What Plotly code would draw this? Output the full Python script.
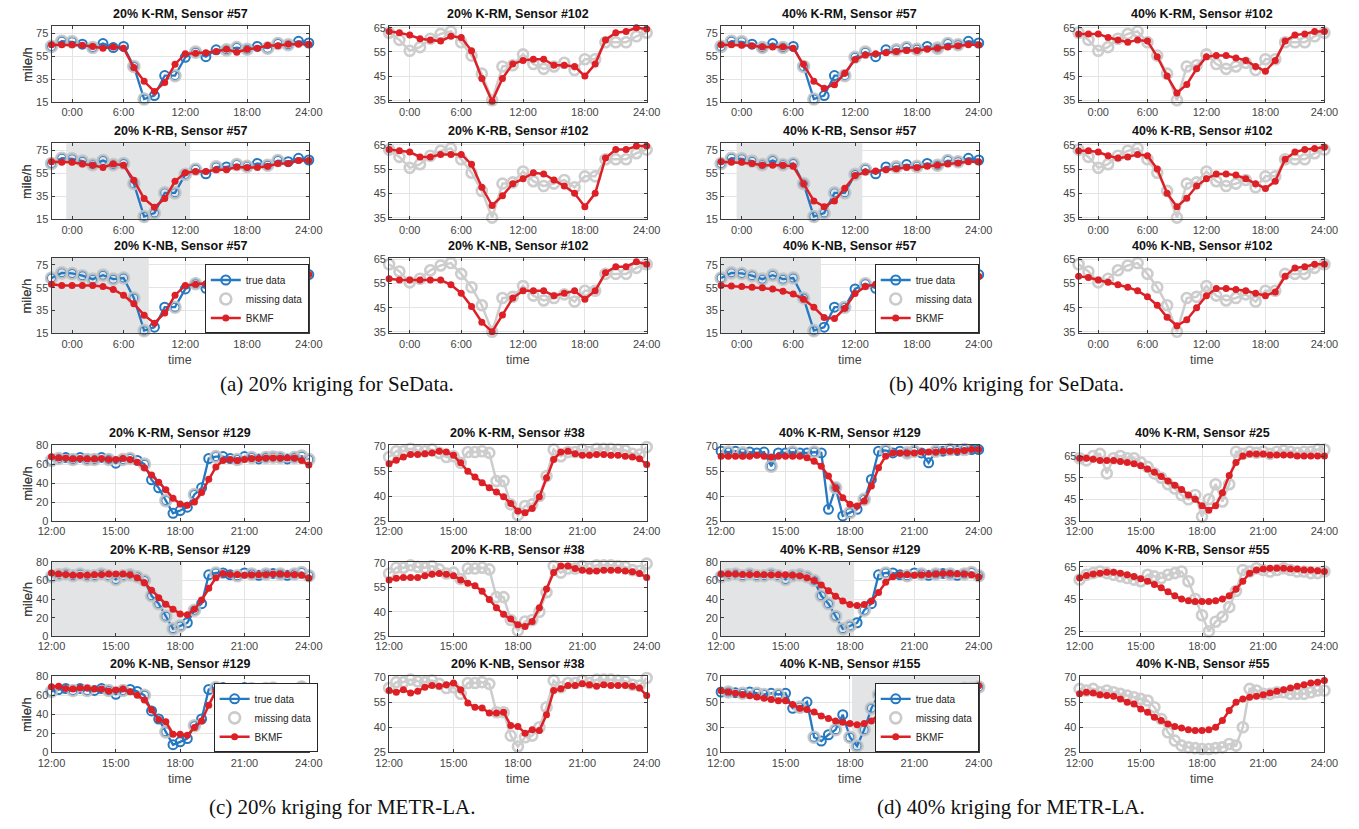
import plotly.graph_objects as go

W, H = 1359, 829

# ---------------- time axes ----------------
se_x = list(range(26))                    # SeData, hourly samples
se_tickvals = [2, 7, 13, 19, 25]
se_ticktext = ["0:00", "6:00", "12:00", "18:00", "24:00"]
la_x = list(range(37))                    # METR-LA, 20-minute samples from 12:00
la_tickvals = [0, 9, 18, 27, 36]
la_ticktext = ["12:00", "15:00", "18:00", "21:00", "24:00"]

# ---------------- SeData (speed, mile/h) ----------------
se_true_57 = [63.5, 68, 67.5, 65.5, 62.5, 66, 62.5, 63.5, 46, 17.5, 20.5, 38, 38, 54, 58.5,
              54.5, 60.5, 60.5, 62.5, 61, 63.5, 62, 66, 65, 68, 66.5]
se20_rm_57 = [65, 65, 65, 64.5, 63.5, 62, 63, 62, 45, 33, 24, 32, 48, 57, 57.5, 58, 59, 61,
              58.5, 61, 62, 64.5, 64, 65.5, 65.5, 65.5]
se20_rb_57 = [65, 64.5, 64.5, 63, 62, 60, 63, 62, 49, 33, 25.5, 33, 48, 55.5, 56.5, 56.5, 58,
              58, 60.5, 60, 60, 61, 63.5, 63.5, 66, 66]
se20_nb_57 = [58, 57, 57, 57, 57, 56, 53.5, 48.5, 41, 31, 24, 33, 48.5, 57, 58, 58.5, 59.5,
              60.5, 62, 59, 61.5, 62.5, 65.5, 65, 66.5, 66.5]
se40_rm_57 = [65, 65, 64.5, 64, 63, 63, 63, 62, 48, 33, 27, 30, 40, 52, 56, 57, 58, 59, 60,
              60, 61, 62, 63, 64, 65, 65]
se40_rb_57 = [65, 64.5, 64.5, 63.5, 62, 62, 62, 61, 46, 31, 26, 31, 42, 53, 56, 57, 58, 59,
              60, 60, 61, 62, 63, 64, 65, 65]
se40_nb_57 = [57, 56.5, 56, 55.5, 55, 54, 52, 49.5, 45, 38, 29, 28, 37, 50, 56, 58, 59, 60,
              61, 61, 62, 62, 63, 64, 65, 65]

se_true_102 = [63, 60, 55.5, 57, 60.5, 62.5, 63.5, 59, 53.5, 46, 35, 49, 49.5, 54, 50, 48, 49,
               50.5, 47.5, 52, 52, 59, 59, 59, 61.5, 63]
se20_rm_102 = [63.5, 63, 62, 60.5, 60, 59.5, 61.5, 61, 55.5, 44, 34.6, 44, 50, 51.5, 52, 52,
               49.5, 49.5, 49, 45, 50, 60, 63, 63.5, 65, 64.5]
se20_rb_102 = [63, 62.5, 62, 60, 60, 61, 61, 61, 57, 47.5, 40, 44, 49, 51, 53.5, 53, 50.5, 48,
               45, 39.5, 45, 59.5, 63, 63, 64.5, 64.5]
se20_nb_102 = [57, 56.5, 56.5, 56.5, 56.5, 56.5, 54.5, 51, 45.5, 39, 35, 42, 49, 52, 52, 52,
               50, 51, 52, 48.5, 52, 59.5, 62, 62, 64, 63]
se40_rm_102 = [62.5, 62.5, 62.5, 61, 60, 59, 60, 59.5, 53, 45, 38, 41.5, 48, 53, 53.5, 53.5,
               52.5, 51.5, 49, 47, 51.5, 59.5, 62, 62.5, 63.5, 63.5]
se40_rb_102 = [62.5, 62.5, 62, 60.5, 59.5, 60, 61, 60.5, 55, 45, 39.5, 43, 48, 51, 53, 53,
               52.5, 51, 49, 47, 50, 59, 62, 63, 63.5, 64]
se40_nb_102 = [58, 57.5, 56.5, 55.5, 54.5, 53.5, 52, 49.5, 46, 41, 37.5, 40, 45, 50, 53, 53,
               52.5, 52, 51, 50, 51.5, 58, 61.5, 62, 63, 63]

# ---------------- METR-LA (speed, mile/h) ----------------
la_true_129 = [64, 66, 67, 65, 67, 65, 65, 67, 65, 61, 65, 66, 64, 60, 43.5, 35, 21.5, 8, 11,
               14.5, 28, 35, 66, 68, 68, 66, 65, 68, 67, 65.5, 67, 67.5, 67, 65.5, 67, 68.5, 65]
la20_rm_129 = [67.8, 66.5, 66.5, 65.5, 66, 65.5, 65.5, 66, 65, 65, 66, 65, 62, 56, 48.5, 41,
               33, 24, 18, 16.5, 20, 30, 44, 57, 64, 65, 64, 65, 66, 66, 66.5, 66.5, 66.5,
               66.5, 66.5, 64, 59]
la20_rb_129 = [68, 67, 66.5, 65.5, 65.5, 65.5, 66, 66.5, 67, 67, 67, 66, 63, 57.5, 49.5, 41.5,
               34.5, 29, 24, 23, 29, 39, 51.5, 63, 67.5, 66.5, 66, 65.5, 66, 66, 66.5, 67, 67,
               66.5, 66.5, 65.5, 62.5]
la20_nb_129 = [69, 69.5, 67, 66.5, 67.5, 67.5, 66.5, 66.5, 64.5, 65.5, 66.5, 63.5, 60, 55,
               44.5, 34.5, 32, 19, 19, 18, 26, 33, 49.5, 64.5, 66.5, 65.5, 64.5, 67, 67, 66.5,
               66.5, 66.5, 66.5, 66.5, 66.5, 66.5, 60]
la_true_38 = [63.5, 67, 67, 68.5, 67.5, 67, 68, 66, 63.5, 64, 60, 66.5, 66.5, 67, 66, 49, 49,
              35, 28.5, 34, 35, 40, 52, 68, 64, 66.5, 66.5, 68, 66.5, 68.5, 68.5, 68.5, 68,
              67.5, 65.5, 65, 69.5]
la20_rm_38 = [59.5, 61.5, 63.5, 65, 65, 65.5, 66, 67, 66.5, 64.5, 60, 55, 51.5, 48, 45, 42.5,
              39.5, 35.5, 31, 30, 32.5, 39.5, 51, 62, 66.5, 67, 65.5, 64.5, 64.5, 65, 65, 64.5,
              64.5, 64, 63.5, 62.5, 59]
la20_rb_38 = [59.5, 60.5, 61, 61, 61, 62, 63, 63.5, 63, 62, 59.5, 57.5, 56, 52.5, 47.5, 42.5,
              38.5, 35.5, 32, 31, 34, 42.5, 54, 64, 68, 68, 66.5, 65.5, 65, 65, 65.5, 65.5,
              65.5, 65, 64.5, 63.5, 61]
la20_nb_38 = [62, 61, 62.5, 60.5, 61.5, 64, 65, 64.5, 65.5, 66.5, 62.5, 54.5, 52, 51.5, 48.5,
              48.5, 49, 41, 40.5, 36.5, 38.5, 38, 47.5, 62, 63, 65, 65, 66, 65.5, 64.5, 65.5,
              65, 65, 65, 64.5, 63.5, 59]

la_true_129b = [67, 66.5, 67, 66, 66.5, 66, 66.5, 58, 66, 66, 66.5, 66, 66, 66.5, 66, 32, 45,
                28, 30, 32, 38, 50, 67, 67.5, 66, 67, 66, 67, 66, 60, 67, 67, 68, 67.5, 68,
                68, 68]
la40_rm_129 = [64, 64, 64, 64, 64, 64.5, 64, 63.5, 64, 64, 64, 64, 63, 61, 58, 52, 45, 39, 35,
               34, 37, 46, 57, 64, 66, 66, 66, 66, 66.5, 66.5, 66.5, 67, 67, 67, 67.5, 68, 68]
la40_rb_129 = [67, 67, 67, 66.5, 66.5, 66.5, 66, 66, 66, 66, 65.5, 65, 63, 60, 55, 49, 43, 38,
               34, 33, 34, 38, 47, 58, 64, 66, 66, 65.5, 66, 66.5, 67, 67.5, 67.5, 67, 67, 66,
               64]
la_true_155 = [58, 58, 57.5, 57, 58, 57, 56, 57, 56, 57, 45, 46, 50, 22, 19, 24, 28, 40, 22,
               15, 28, 45, 56, 57, 58, 58, 58, 59, 59, 59, 59, 60, 60, 60, 61, 61, 62]
la40_nb_155 = [59, 58, 57, 56, 55, 54, 53, 52, 51, 51, 48, 45, 44, 42, 39, 37, 35, 34, 33,
               32, 33, 35, 40, 47, 52, 54, 55, 56, 57, 58, 59, 59, 60, 61, 61, 62, 63]
la_true_25 = [64, 63, 65, 66, 57, 64, 65, 64, 64, 62, 60, 57, 55, 52, 50, 47, 45, 47, 37, 45,
              52, 44, 52, 67, 66, 67, 66.5, 67, 66, 67, 67.5, 67, 66.5, 67, 67, 68, 68]
la40_rm_25 = [64, 64, 63.5, 63, 63, 63, 62.5, 62, 61.5, 60.5, 59, 57.5, 55.5, 53.5, 51.5,
              49.5, 47, 45, 42, 40, 42, 48, 56, 62, 65, 66, 66, 66, 65.5, 65.5, 65.5, 65.5,
              65, 65, 65, 65, 65]
la_true_55 = [57, 60, 61, 62, 61, 60, 59, 58, 57, 56, 60, 59, 58, 60, 61, 62, 56, 45, 35, 25,
              31, 34, 40, 50, 63, 62, 64, 63, 62, 63, 64, 63, 62, 62, 61, 61, 62]
la40_rb_55 = [58, 59.5, 60.5, 61, 61.5, 61.5, 61, 60, 59, 57.5, 56, 54, 52, 49.5, 47, 45, 44,
              43.5, 43.5, 43.5, 44, 45, 47, 51, 56, 61, 63, 63.5, 64, 64, 64, 63.5, 63.5, 63,
              63, 62.5, 62]
la_true_55b = [63, 62, 63, 61, 62, 61, 60, 59, 58, 57, 56, 52, 45, 37, 32, 29, 28, 27.5, 27,
               27, 27.5, 28, 30, 29, 40, 63, 62, 60, 60, 61, 61, 60, 60, 60, 61, 62, 62]
la40_nb_55 = [60, 61, 60.5, 59.5, 59, 58.5, 57, 55, 54, 51, 49, 46, 44, 42, 40.5, 39.5, 38.5,
              38, 38, 38.5, 40, 44, 50, 55, 57, 58, 58.5, 59.5, 60.5, 61.5, 62.5, 63.5, 64.5,
              65.5, 66.5, 67, 68]

# indices of samples hidden from the model (drawn as grey rings)
miss_se20_rm = [0, 1, 2, 4, 8, 9, 12, 14, 17, 18, 19, 21, 22, 23]
miss_se20_rb = list(range(0, 14)) + [14, 16, 18, 19, 21, 22]
miss_se20_nb = list(range(0, 10)) + [12, 14, 17, 18, 19, 21, 22, 23]
miss_se40_rm = [0, 1, 2, 4, 6, 8, 9, 12, 13, 14, 17, 18, 19, 21, 22, 23]
miss_se40_rb = list(range(0, 14)) + [14, 17, 19, 21, 22, 23]
miss_se40_nb = list(range(0, 10)) + [12, 14, 16, 17, 19, 21, 22, 23]
miss_la20_rm = [0, 1, 3, 5, 6, 8, 10, 11, 13, 16, 20, 23, 26, 28, 30, 31, 32, 34, 35, 36]
miss_la20_rb = list(range(0, 19)) + [20, 23, 26, 28, 30, 32, 34, 35, 36]
miss_la20_nb = [0, 3, 5, 8, 10, 13, 16, 20, 23, 26, 28, 30, 31, 33, 35, 36]
miss_la40_rm = [1, 3, 7, 10, 13, 16, 18, 20, 23, 26, 27, 30, 32, 34]
miss_la40_rb = list(range(0, 19)) + [20, 23, 26, 28, 30, 32, 34, 35, 36]
miss_la40_nb = [1, 3, 5, 6, 8, 11, 13, 16, 18] + list(range(19, 37))

# ---------------- styling ----------------
BLUE = "#2479c2"
RED = "#dd1f26"
RING = "rgba(196,196,196,0.88)"
GREY_LINE = "#cdcdcd"
SHADE = "#e3e4e6"
GRID = "#e4e4e4"
AXC = "#3c3c3c"
TXT = "#454545"
FONT = "Liberation Sans"
SERIF = "Liberation Serif"

# plot-box pixel geometry (left, right) and (top, bottom)
COLS = {"aL": (38.3, 301), "aR": (383, 646), "bL": (722, 985), "bR": (1087, 1338),
        "cL": (38.3, 301), "cR": (383, 646), "dL": (722, 985), "dR": (1088, 1338)}
ROWS_TOP = [(20.7, 97.3), (139.3, 216.5), (255.7, 332.3)]
ROWS_BOT = [(445.7, 522.5), (564, 639.5), (680, 757.3)]

SE_57 = dict(yr=[15, 81], yt=[15, 35, 55, 75])
SE_102 = dict(yr=[34.3, 65.6], yt=[35, 45, 55, 65])
LA_80 = dict(yr=[0, 80], yt=[0, 20, 40, 60, 80])
LA_70 = dict(yr=[25, 70.6], yt=[25, 40, 55, 70])

panels = [
    # ---- (a) 20% SeData ----
    dict(title="20% K-RM, Sensor #57", col="aL", row=ROWS_TOP[0], t="se", true=se_true_57,
         miss=miss_se20_rm, est=se20_rm_57, **SE_57),
    dict(title="20% K-RB, Sensor #57", col="aL", row=ROWS_TOP[1], t="se", true=se_true_57,
         miss=miss_se20_rb, est=se20_rb_57, shade=(1.43, 13.47), **SE_57),
    dict(title="20% K-NB, Sensor #57", col="aL", row=ROWS_TOP[2], t="se", true=se_true_57,
         miss=miss_se20_nb, est=se20_nb_57, shade=(0, 9.45), legend="legend", **SE_57),
    dict(title="20% K-RM, Sensor #102", col="aR", row=ROWS_TOP[0], t="se", ref=se_true_102,
         est=se20_rm_102, **SE_102),
    dict(title="20% K-RB, Sensor #102", col="aR", row=ROWS_TOP[1], t="se", ref=se_true_102,
         est=se20_rb_102, **SE_102),
    dict(title="20% K-NB, Sensor #102", col="aR", row=ROWS_TOP[2], t="se", ref=se_true_102,
         est=se20_nb_102, **SE_102),
    # ---- (b) 40% SeData ----
    dict(title="40% K-RM, Sensor #57", col="bL", row=ROWS_TOP[0], t="se", true=se_true_57,
         miss=miss_se40_rm, est=se40_rm_57, **SE_57),
    dict(title="40% K-RB, Sensor #57", col="bL", row=ROWS_TOP[1], t="se", true=se_true_57,
         miss=miss_se40_rb, est=se40_rb_57, shade=(1.5, 13.7), **SE_57),
    dict(title="40% K-NB, Sensor #57", col="bL", row=ROWS_TOP[2], t="se", true=se_true_57,
         miss=miss_se40_nb, est=se40_nb_57, shade=(0, 9.7), legend="legend2", **SE_57),
    dict(title="40% K-RM, Sensor #102", col="bR", row=ROWS_TOP[0], t="se", ref=se_true_102,
         est=se40_rm_102, **SE_102),
    dict(title="40% K-RB, Sensor #102", col="bR", row=ROWS_TOP[1], t="se", ref=se_true_102,
         est=se40_rb_102, **SE_102),
    dict(title="40% K-NB, Sensor #102", col="bR", row=ROWS_TOP[2], t="se", ref=se_true_102,
         est=se40_nb_102, **SE_102),
    # ---- (c) 20% METR-LA ----
    dict(title="20% K-RM, Sensor #129", col="cL", row=ROWS_BOT[0], t="la", true=la_true_129,
         miss=miss_la20_rm, est=la20_rm_129, **LA_80),
    dict(title="20% K-RB, Sensor #129", col="cL", row=ROWS_BOT[1], t="la", true=la_true_129,
         miss=miss_la20_rb, est=la20_rb_129, shade=(0, 18.3), **LA_80),
    dict(title="20% K-NB, Sensor #129", col="cL", row=ROWS_BOT[2], t="la", true=la_true_129,
         miss=miss_la20_nb, est=la20_nb_129, legend="legend3", **LA_80),
    dict(title="20% K-RM, Sensor #38", col="cR", row=ROWS_BOT[0], t="la", ref=la_true_38,
         est=la20_rm_38, **LA_70),
    dict(title="20% K-RB, Sensor #38", col="cR", row=ROWS_BOT[1], t="la", ref=la_true_38,
         est=la20_rb_38, **LA_70),
    dict(title="20% K-NB, Sensor #38", col="cR", row=ROWS_BOT[2], t="la", ref=la_true_38,
         est=la20_nb_38, **LA_70),
    # ---- (d) 40% METR-LA ----
    dict(title="40% K-RM, Sensor #129", col="dL", row=ROWS_BOT[0], t="la", true=la_true_129b,
         miss=miss_la40_rm, est=la40_rm_129, **LA_70),
    dict(title="40% K-RB, Sensor #129", col="dL", row=ROWS_BOT[1], t="la", true=la_true_129,
         miss=miss_la40_rb, est=la40_rb_129, shade=(0, 18.6), **LA_80),
    dict(title="40% K-NB, Sensor #155", col="dL", row=ROWS_BOT[2], t="la", true=la_true_155,
         miss=miss_la40_nb, est=la40_nb_155, shade=(18.3, 36), legend="legend4",
         yr=[10, 70.6], yt=[10, 30, 50, 70]),
    dict(title="40% K-RM, Sensor #25", col="dR", row=ROWS_BOT[0], t="la", ref=la_true_25,
         est=la40_rm_25, yr=[35, 70], yt=[35, 45, 55, 65]),
    dict(title="40% K-RB, Sensor #55", col="dR", row=ROWS_BOT[1], t="la", ref=la_true_55,
         est=la40_rb_55, yr=[22, 68], yt=[25, 45, 65]),
    dict(title="40% K-NB, Sensor #55", col="dR", row=ROWS_BOT[2], t="la", ref=la_true_55b,
         est=la40_nb_55, **LA_70),
]

fig = go.Figure()
layout = dict(width=W, height=H, margin=dict(l=0, r=0, t=0, b=0),
              paper_bgcolor="white", plot_bgcolor="white", showlegend=True,
              font=dict(family=FONT, color=TXT))
annotations, shapes = [], []

for k, p in enumerate(panels, start=1):
    sfx = "" if k == 1 else str(k)
    xr, yr_ = "x" + sfx, "y" + sfx
    x0, x1 = COLS[p["col"]]
    top, bot = p["row"]
    left_col = "true" in p
    if p["t"] == "se":
        xs, tv, tt = se_x, se_tickvals, se_ticktext
    else:
        xs, tv, tt = la_x, la_tickvals, la_ticktext
    axis_common = dict(showgrid=True, gridcolor=GRID, gridwidth=1, zeroline=False,
                       showline=True, linecolor=AXC, linewidth=1, mirror="ticks",
                       ticks="inside", ticklen=3, tickcolor=AXC,
                       tickfont=dict(family=FONT, size=11, color=TXT))
    layout["xaxis" + sfx] = dict(domain=[x0 / W, x1 / W], anchor=yr_, range=[xs[0], xs[-1]],
                                 tickmode="array", tickvals=tv, ticktext=tt, **axis_common)
    layout["yaxis" + sfx] = dict(domain=[1 - bot / H, 1 - top / H], anchor=xr,
                                 range=p["yr"], tickmode="array", tickvals=p["yt"],
                                 **axis_common)

    leg = p.get("legend")
    show = leg is not None
    if "shade" in p:
        s0, s1 = p["shade"]
        shapes.append(dict(type="rect", xref=xr, yref=yr_ + " domain", x0=s0, x1=s1,
                           y0=0, y1=1, fillcolor=SHADE, line=dict(width=0), layer="below"))
    if left_col:
        true = p["true"]
        fig.add_trace(go.Scatter(
            x=xs, y=true, xaxis=xr, yaxis=yr_, mode="lines+markers", name="true data",
            line=dict(color=BLUE, width=2.3),
            marker=dict(symbol="circle-open", size=9, color=BLUE, line=dict(width=2)),
            cliponaxis=False, showlegend=show, legend=leg or "legend"))
        mi = p["miss"]
        fig.add_trace(go.Scatter(
            x=[xs[i] for i in mi], y=[true[i] for i in mi], xaxis=xr, yaxis=yr_,
            mode="markers", name="missing data",
            marker=dict(symbol="circle-open", size=11, color=RING, line=dict(width=2.6)),
            cliponaxis=False, showlegend=show, legend=leg or "legend"))
    else:
        fig.add_trace(go.Scatter(
            x=xs, y=p["ref"], xaxis=xr, yaxis=yr_, mode="lines+markers", name="missing data",
            line=dict(color=GREY_LINE, width=2.5),
            marker=dict(symbol="circle-open", size=10, color=GREY_LINE, line=dict(width=2.6)),
            cliponaxis=False, showlegend=False))
    fig.add_trace(go.Scatter(
        x=xs, y=p["est"], xaxis=xr, yaxis=yr_, mode="lines+markers", name="BKMF",
        line=dict(color=RED, width=2.5), marker=dict(symbol="circle", size=7, color=RED),
        cliponaxis=False, showlegend=show, legend=leg or "legend"))

    cx = (x0 + x1) / 2
    annotations.append(dict(text=p["title"], x=cx / W, y=1 - (top - 3) / H, xref="paper",
                            yref="paper", xanchor="center", yanchor="bottom", showarrow=False,
                            font=dict(family=FONT, size=12.5, color="#111111", weight="bold")))
    if left_col:
        annotations.append(dict(text="mile/h", x=13 / W, y=1 - (top + bot) / 2 / H,
                                xref="paper", yref="paper", textangle=-90, showarrow=False,
                                xanchor="center", yanchor="middle",
                                font=dict(family=FONT, size=13, color=TXT)))
    if p["row"] in (ROWS_TOP[2], ROWS_BOT[2]):
        annotations.append(dict(text="time", x=cx / W, y=1 - (bot + 27) / H, xref="paper",
                                yref="paper", xanchor="center", yanchor="middle",
                                showarrow=False, font=dict(family=FONT, size=12.5, color=TXT)))

# legends, one per sub-figure, anchored at the lower-right of the K-NB plot
leg_style = dict(bgcolor="white", bordercolor="#262626", borderwidth=1,
                 font=dict(family=FONT, size=10, color="#222222"),
                 xanchor="right", yanchor="bottom", itemwidth=30, tracegroupgap=0)
layout["legend"] = dict(x=301 / W, y=1 - 332.3 / H, **leg_style)
layout["legend2"] = dict(x=985 / W, y=1 - 332.3 / H, **leg_style)
layout["legend3"] = dict(x=310 / W, y=1 - 757.3 / H, **leg_style)
layout["legend4"] = dict(x=985 / W, y=1 - 757.3 / H, **leg_style)

captions = [("(a) 20% kriging for SeData.", 330, 384),
            ("(b) 40% kriging for SeData.", 1013, 384),
            ("(c) 20% kriging for METR-LA.", 335, 813),
            ("(d) 40% kriging for METR-LA.", 1018, 813)]
for text, cx, cy in captions:
    annotations.append(dict(text=text, x=cx / W, y=1 - cy / H, xref="paper", yref="paper",
                            xanchor="center", yanchor="middle", showarrow=False,
                            font=dict(family=SERIF, size=21, color="#111111")))

layout["annotations"] = annotations
layout["shapes"] = shapes
fig.update_layout(**layout)
fig.write_html("out.html")
